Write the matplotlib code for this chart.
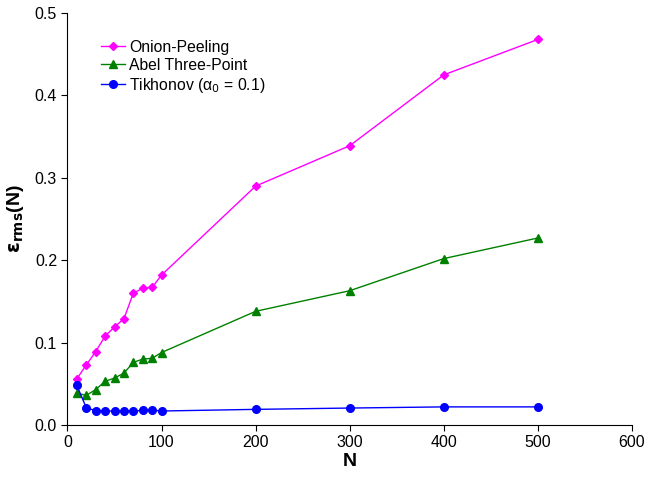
import matplotlib
matplotlib.use('Agg')
import matplotlib.pyplot as plt

plt.rcParams['font.family'] = ['Liberation Sans', 'DejaVu Sans']

N = [10, 20, 30, 40, 50, 60, 70, 80, 90, 100, 200, 300, 400, 500]
onion = [0.056, 0.073, 0.089, 0.108, 0.119, 0.129, 0.160, 0.166, 0.167, 0.182,
         0.290, 0.339, 0.425, 0.468]
abel = [0.0385, 0.036, 0.043, 0.053, 0.057, 0.063, 0.076, 0.080, 0.081, 0.088,
        0.138, 0.163, 0.202, 0.227]
tikhonov = [0.048, 0.021, 0.0174, 0.0174, 0.0166, 0.0168, 0.0166, 0.018, 0.018, 0.017,
            0.019, 0.0206, 0.022, 0.022]

fig = plt.figure(figsize=(6.68, 4.79), dpi=100)
ax = fig.add_axes([0.101, 0.1127, 0.845, 0.86])

ax.plot(N, onion, color='#FF00FF', marker='D', markersize=4.5, linewidth=1, label='Onion-Peeling')
ax.plot(N, abel, color='#008000', marker='^', markersize=6, linewidth=1, label='Abel Three-Point')
ax.plot(N, tikhonov, color='#0000FF', marker='o', markersize=5.5, linewidth=1,
        label='Tikhonov (α$_0$ = 0.1)')

ax.set_xlim(0, 600)
ax.set_ylim(0, 0.5)
ax.set_xticks(range(0, 601, 100))
ax.set_yticks([0, 0.1, 0.2, 0.3, 0.4, 0.5])
ax.set_yticklabels(['0.0', '0.1', '0.2', '0.3', '0.4', '0.5'])
ax.tick_params(labelsize=11.5, direction='out', length=4)
ax.spines['top'].set_visible(False)
ax.spines['right'].set_visible(False)

ax.set_xlabel('N', fontsize=14, fontweight='bold', labelpad=2)
ax.set_ylabel(r'$\mathbf{\varepsilon}_{\mathbf{rms}}$(N)', fontsize=14, fontweight='bold', labelpad=6)

ax.legend(loc='upper left', bbox_to_anchor=(0.035, 0.97), frameon=False, fontsize=11.3,
          handlelength=1.5, handletextpad=0.25, labelspacing=0.2)

fig.savefig('out.png', dpi=100)
